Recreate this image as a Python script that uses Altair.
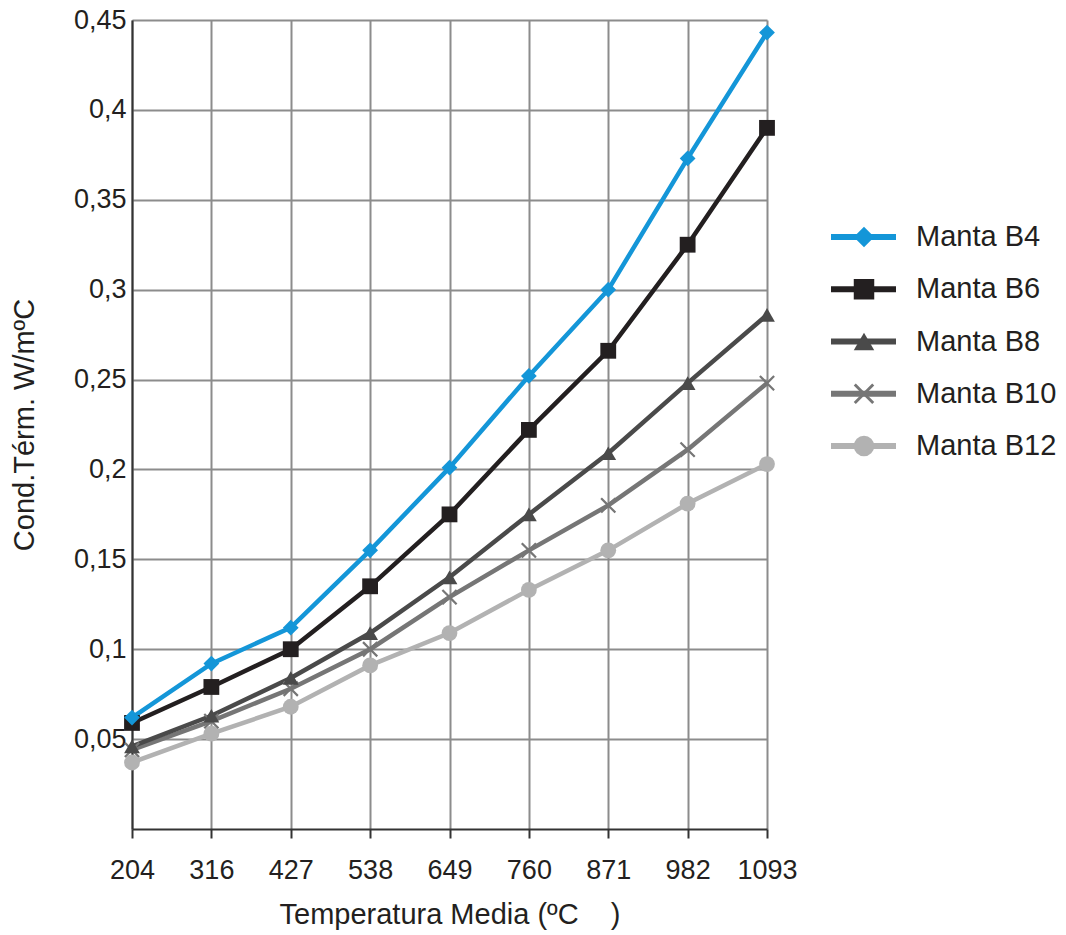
import altair as alt
import pandas as pd

# ---- data ----
temps = [204, 316, 427, 538, 649, 760, 871, 982, 1093]
series = ["Manta B4", "Manta B6", "Manta B8", "Manta B10", "Manta B12"]
b4 = [0.062, 0.092, 0.112, 0.155, 0.201, 0.252, 0.300, 0.373, 0.443]
b6 = [0.059, 0.079, 0.100, 0.135, 0.175, 0.222, 0.266, 0.325, 0.390]
b8 = [0.046, 0.063, 0.084, 0.109, 0.140, 0.175, 0.209, 0.248, 0.286]
b10 = [0.044, 0.060, 0.078, 0.100, 0.129, 0.155, 0.180, 0.211, 0.248]
b12 = [0.037, 0.053, 0.068, 0.091, 0.109, 0.133, 0.155, 0.181, 0.203]
y_ticks = [0.05, 0.1, 0.15, 0.2, 0.25, 0.3, 0.35, 0.4, 0.45]

colors = ["#1496d8", "#231f20", "#4a4a4a", "#767676", "#b2b2b2"]
x_path = ("M-1,-0.8L-0.8,-1L0,-0.2L0.8,-1L1,-0.8L0.2,0L1,0.8L0.8,1L0,0.2L-0.8,1L-1,0.8L-0.2,0Z")
shapes = ["diamond", "square", "triangle-up", x_path, "circle"]

rows = []
# draw lightest series first so B4 ends on top
for name, vals in reversed(list(zip(series, [b4, b6, b8, b10, b12]))):
    for t, v in zip(temps, vals):
        rows.append({"temp": t, "value": v, "series": name})
df = pd.DataFrame(rows)
leg_df = pd.DataFrame({"series": series})

FONT = "Liberation Sans"
TXT = "#231f20"
NB = "\u00a0"

color = alt.Color("series:N", scale=alt.Scale(domain=series, range=colors), legend=None)
shape = alt.Shape("series:N", scale=alt.Scale(domain=series, range=shapes), legend=None)

x = alt.X(
    "temp:O",
    sort=temps,
    scale=alt.Scale(type="point", padding=0),
    axis=alt.Axis(
        title="Temperatura Media (ºC" + NB * 4 + ")",
        labelAngle=0,
        labelFontSize=27,
        labelFont=FONT,
        labelColor=TXT,
        labelPadding=19,
        tickSize=9,
        tickWidth=2,
        tickColor="#333333",
        domainColor="#333333",
        domainWidth=2,
        grid=True,
        gridColor="#8c8c8c",
        gridWidth=2,
        titleFontSize=29,
        titleFont=FONT,
        titleFontWeight="normal",
        titleColor=TXT,
        titlePadding=17,
    ),
)
y = alt.Y(
    "value:Q",
    scale=alt.Scale(domain=[0, 0.45], nice=False, zero=True),
    axis=alt.Axis(
        title="Cond.Térm. W/mºC",
        values=y_ticks,
        labelExpr="replace(format(datum.value, '.2~f'), '.', ',')",
        labelFontSize=27,
        labelFont=FONT,
        labelColor=TXT,
        labelPadding=6,
        ticks=False,
        tickSize=0,
        domainColor="#333333",
        domainWidth=2,
        grid=True,
        gridColor="#8c8c8c",
        gridWidth=2,
        titleFontSize=29,
        titleFont=FONT,
        titleFontWeight="normal",
        titleColor=TXT,
        titlePadding=34,
    ),
)

base = alt.Chart(df)
lines = base.mark_line(strokeWidth=4.5).encode(x=x, y=y, color=color, detail="series:N")
points = base.mark_point(filled=True, size=250, opacity=1).encode(
    x=x, y=y, color=color, shape=shape
)
main = alt.layer(lines, points).properties(width=635, height=809)

# ---- legend panel ----
ly = alt.Y(
    "series:N",
    sort=series,
    scale=alt.Scale(type="point", domain=series, range=[217, 426], padding=0),
    axis=None,
)
lbase = alt.Chart(leg_df)
leg_rule = lbase.mark_rule(strokeWidth=6).encode(
    x=alt.value(0), x2=alt.value(65), y=ly, color=color
)
leg_pt = lbase.mark_point(filled=True, size=420, opacity=1).encode(
    x=alt.value(33), y=ly, color=color, shape=shape
)
leg_txt = lbase.mark_text(
    align="left", baseline="middle", fontSize=29, font=FONT, color=TXT
).encode(x=alt.value(85), y=ly, text="series:N")
legend = alt.layer(leg_rule, leg_pt, leg_txt).properties(width=230, height=809)

chart = (
    alt.hconcat(main, legend, spacing=64, bounds="flush")
    .properties(
        padding={"left": 10, "top": 6, "right": 5, "bottom": 5},
        background="white",
    )
    .configure_view(strokeOpacity=0, stroke="transparent")
)

chart.save("out.html", embed_options={"renderer": "svg", "actions": False})
